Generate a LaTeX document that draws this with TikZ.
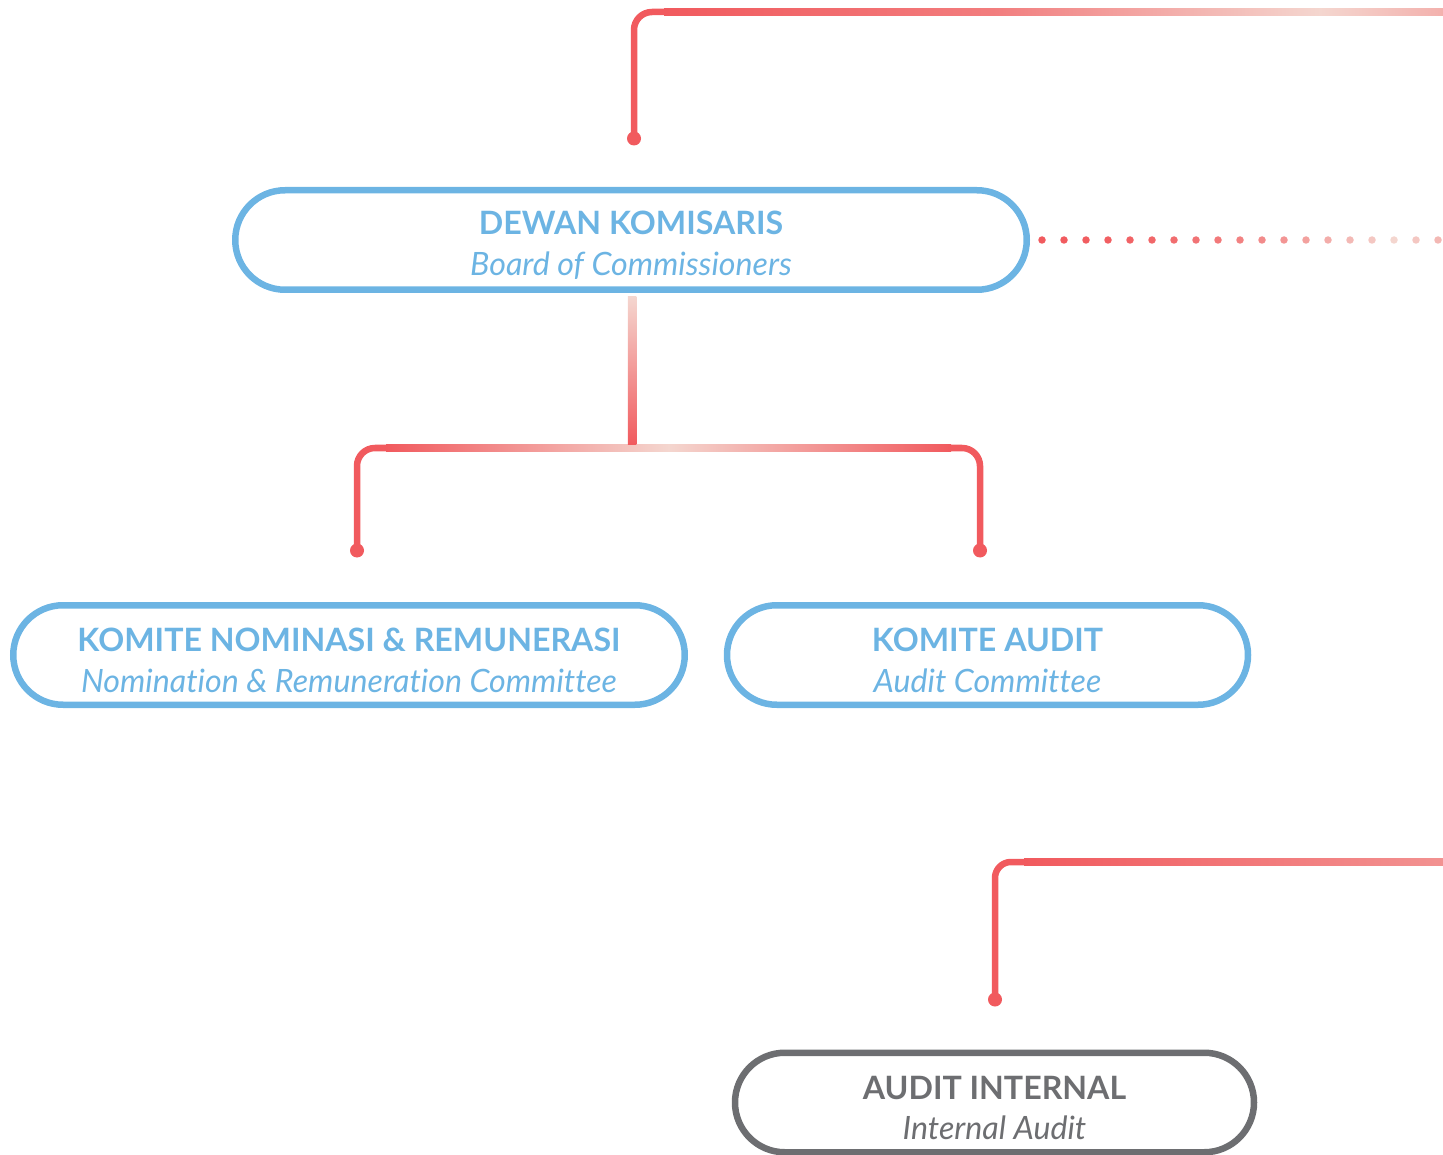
\documentclass[tikz,border=0pt]{standalone}
\usepackage{fontspec}
\setmainfont[Ligatures=NoCommon]{Lato}
\usetikzlibrary{positioning,calc}
\definecolor{linered}{HTML}{F15A5E}
\definecolor{linepale}{HTML}{F4D6CF}
\definecolor{boxblue}{HTML}{6CB4E3}
\definecolor{boxgray}{HTML}{6D6E71}
\newcommand{\orgtext}[2]{{\rule{0pt}{19.5pt}\bfseries #1}\\{\itshape #2}}
\tikzset{
    %Define style for the pill boxes
    unit/.style={
           rectangle,
           rounded corners=0.995cm,
           draw=boxblue, line width=0.13cm,
           text=boxblue,
           minimum height=1.99cm,
           inner sep=0pt,
           align=center,
           font=\fontsize{18.3}{23.2}\selectfont},
    staff/.style={
           unit,
           draw=boxgray,
           text=boxgray},
    % Define connector style
    wire/.style={
           draw=linered,
           line width=0.13cm,
           rounded corners=0.36cm},
    knob/.style={
           fill=linered}
}
\begin{document}
\begin{tikzpicture}
\useasboundingbox (0,0) rectangle (28.86,-23.1);
 %nodes
\node[unit, minimum width=15.83cm] (dk) at (12.62,-4.8)
    {\orgtext{DEWAN KOMISARIS}{Board of Commissioners}};
\node[unit, minimum width=13.43cm] (knr) at (6.98,-13.1)
    {\orgtext{KOMITE NOMINASI \& REMUNERASI}{Nomination \& Remuneration Committee}};
\node[unit, minimum width=10.42cm] (ka) at (19.75,-13.1)
    {\orgtext{KOMITE AUDIT}{Audit Committee}};
\node[staff, minimum width=10.38cm] (ai) at (19.89,-22.05)
    {\orgtext{AUDIT INTERNAL}{Internal Audit}};
 %end points
\coordinate[above=0.97cm of dk.north, xshift=0.06cm] (dktop);
\coordinate (dkbend) at (13.3,-0.24);
\coordinate (dkfade) at (26.4,-0.24);
\coordinate (dkend) at (28.86,-0.24);
\coordinate[above=1.03cm of knr.north, xshift=0.16cm] (knrtop);
\coordinate[above=1.03cm of ka.north, xshift=-0.15cm] (katop);
\coordinate (knrbend) at (7.74,-8.96);
\coordinate (kabend) at (19.0,-8.96);
\coordinate (split) at (12.66,-8.96);
\coordinate[above=1.0cm of ai.north, xshift=0.01cm] (aitop);
\coordinate (aibend) at (20.5,-17.24);
\coordinate (aiend) at (28.86,-17.24);
 %top line
\draw[wire] (dktop) |- (dkbend);
\shade[left color=linered, right color=linepale, middle color=linered!72!linepale]
    ($(dkbend)+(-0.02,0.065)$) rectangle ($(dkfade)+(0,-0.065)$);
\shade[left color=linepale, right color=linered!30!linepale]
    ($(dkfade)+(0,0.065)$) rectangle ($(dkend)+(0,-0.065)$);
\fill[knob] (dktop) circle (0.14);
 %dotted line
\foreach \i in {0,...,18}{
    \pgfmathtruncatemacro\pct{\i<=16 ? 100-(\i/16)^2*100 : (\i-16)*12}
    \fill[linered!\pct!linepale] ($(dk.east)+(0.24+0.44*\i,0)$) circle (0.075);
}
 %committees
\draw[wire] (knrtop) |- (knrbend);
\draw[wire] (katop) |- (kabend);
\shade[left color=linered, right color=linered, middle color=linepale]
    ($(knrbend)+(-0.02,0.065)$) rectangle ($(kabend)+(0.02,-0.065)$);
\shade[top color=linepale, bottom color=linered]
    ($(dk.south)+(-0.065,-0.07)$) rectangle ($(split)+(0.065,0.065)$);
\fill[knob] (knrtop) circle (0.14);
\fill[knob] (katop) circle (0.14);
 %internal audit
\draw[wire, rounded corners=0.32cm] (aitop) |- (aibend);
\shade[left color=linered, right color=linered!55!linepale]
    ($(aibend)+(-0.02,0.065)$) rectangle ($(aiend)+(0,-0.065)$);
\fill[knob] (aitop) circle (0.14);
\end{tikzpicture}
\end{document}
